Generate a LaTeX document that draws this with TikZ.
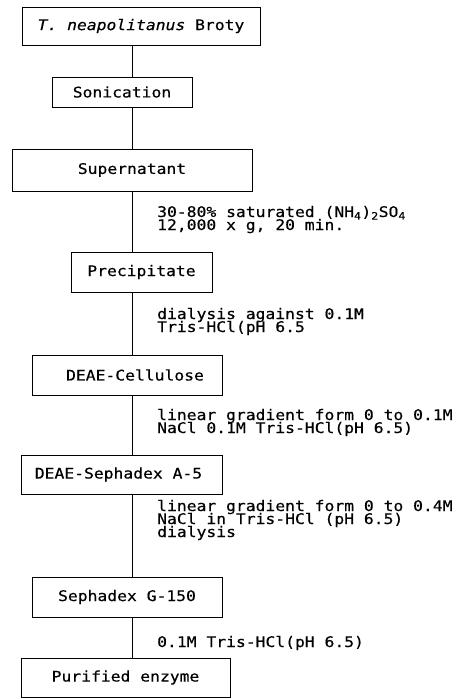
\documentclass[tikz,border=0pt]{standalone}
\usepackage{fontspec}
\setmainfont[FakeStretch=1.12,FakeBold=0.4]{DejaVu Sans Mono}
\begin{document}
\begin{tikzpicture}[x=1pt,y=-1pt,
  txt/.style={font=\fontsize{14.6}{18}\selectfont},
  stepbox/.style={txt,draw,line width=0.8pt,inner sep=0pt,align=center},
  note/.style={txt,anchor=base west,inner sep=0pt},
  link/.style={line width=0.8pt}]
\useasboundingbox (0,0) rectangle (465,699);
\coordinate (spine) at (132,0);
\node[stepbox,minimum width=238pt,minimum height=38pt] (b1) at (141,26) {\textit{T. neapolitanus} Broty};
\node[stepbox,minimum width=140pt,minimum height=30pt] (b2) at (122,92) {Sonication};
\node[stepbox,minimum width=240pt,minimum height=42pt] (b3) at (132,170) {Supernatant};
\node[stepbox,minimum width=141pt,minimum height=40pt] (b4) at (141.5,272) {Precipitate};
\node[stepbox,minimum width=190pt,minimum height=40pt] (b5) at (127,375) {\hspace*{16pt}DEAE-Cellulose};
\node[stepbox,minimum width=201pt,minimum height=39pt] (b6) at (121.5,474.5) {DEAE-Sephadex A-5\hspace*{6pt}};
\node[stepbox,minimum width=190pt,minimum height=40pt] (b7) at (127,597) {Sephadex G-150};
\node[stepbox,minimum width=209pt,minimum height=39pt] (b8) at (125.5,677.5) {Purified enzyme};
\draw[link] (b1.south -| spine) -- (b2.north -| spine);
\draw[link] (b2.south -| spine) -- (b3.north -| spine);
\draw[link] (b3.south -| spine) -- (b4.north -| spine);
\draw[link] (b4.south -| spine) -- (b5.north -| spine);
\draw[link] (b5.south -| spine) -- (b6.north -| spine);
\draw[link] (b6.south -| spine) -- (b7.north -| spine);
\draw[link] (b7.south -| spine) -- (b8.north -| spine);
\node[note] (n1a) at (157,217) {30-80\% saturated (NH\textsubscript{4})\textsubscript{2}SO\textsubscript{4}};
\node[note] (n1b) at (157,230) {12,000 x g, 20 min.};
\node[note] (n2a) at (157,319) {dialysis against 0.1M};
\node[note] (n2b) at (157,332) {Tris-HCl(pH 6.5};
\node[note] (n3a) at (157,420) {linear gradient form 0 to 0.1M};
\node[note] (n3b) at (157,433) {NaCl 0.1M Tris-HCl(pH 6.5)};
\node[note] (n4a) at (157,511) {linear gradient form 0 to 0.4M};
\node[note] (n4b) at (157,524) {NaCl in Tris-HCl (pH 6.5)};
\node[note] (n4c) at (157,537) {dialysis};
\node[note] (n5) at (157,647) {0.1M Tris-HCl(pH 6.5)};
\end{tikzpicture}
\end{document}
